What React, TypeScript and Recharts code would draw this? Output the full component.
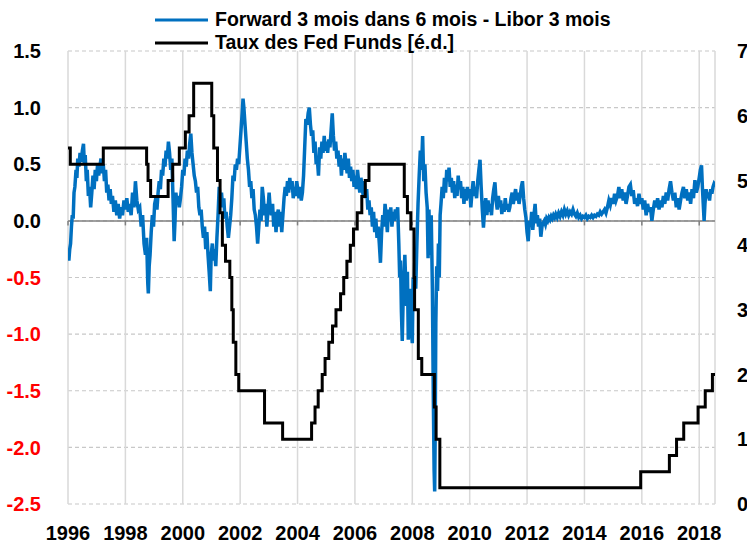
import React from "react";
import {
  CartesianGrid,
  Line,
  LineChart,
  ReferenceLine,
  XAxis,
  YAxis,
} from "recharts";

// [decimal year, spread in pp] - Forward 3m in 6m minus Libor 3m
const forwardSpread: [number, number][] = [
  [1996.0, -0.3], [1996.03, -0.35], [1996.06, -0.25], [1996.09, -0.2], [1996.12, -0.05],
  [1996.15, 0.05], [1996.18, 0.02], [1996.21, 0.25], [1996.24, 0.3], [1996.28, 0.45],
  [1996.31, 0.38], [1996.34, 0.55], [1996.38, 0.48], [1996.42, 0.6], [1996.46, 0.52],
  [1996.5, 0.62], [1996.54, 0.68], [1996.57, 0.5], [1996.6, 0.58], [1996.64, 0.35],
  [1996.67, 0.45], [1996.71, 0.22], [1996.75, 0.3], [1996.79, 0.12], [1996.83, 0.25],
  [1996.87, 0.4], [1996.91, 0.28], [1996.95, 0.45], [1996.99, 0.35], [1997.03, 0.5],
  [1997.07, 0.4], [1997.11, 0.48], [1997.15, 0.55], [1997.19, 0.42], [1997.23, 0.5],
  [1997.27, 0.35], [1997.31, 0.45], [1997.35, 0.25], [1997.39, 0.32], [1997.43, 0.18],
  [1997.47, 0.28], [1997.51, 0.15], [1997.55, 0.22], [1997.6, 0.08], [1997.65, 0.18],
  [1997.7, 0.05], [1997.75, 0.15], [1997.8, 0.02], [1997.85, 0.12], [1997.9, 0.05],
  [1997.95, 0.18], [1998.0, 0.1], [1998.05, 0.2], [1998.1, 0.08], [1998.15, 0.15],
  [1998.2, 0.05], [1998.25, 0.25], [1998.3, 0.12], [1998.35, 0.35], [1998.4, 0.18],
  [1998.45, 0.1], [1998.5, 0.12], [1998.55, -0.05], [1998.6, 0.05], [1998.65, -0.2],
  [1998.7, -0.3], [1998.74, -0.15], [1998.78, -0.55], [1998.8, -0.64], [1998.83, -0.4],
  [1998.86, -0.3], [1998.9, -0.1], [1998.94, 0.05], [1998.98, -0.05], [1999.02, 0.15],
  [1999.06, 0.2], [1999.1, 0.1], [1999.14, 0.25], [1999.18, 0.35], [1999.22, 0.28],
  [1999.26, 0.45], [1999.3, 0.4], [1999.34, 0.55], [1999.38, 0.48], [1999.42, 0.62],
  [1999.46, 0.55], [1999.5, 0.7], [1999.54, 0.6], [1999.58, 0.45], [1999.62, 0.55],
  [1999.66, 0.2], [1999.7, -0.18], [1999.73, 0.0], [1999.76, 0.25], [1999.8, 0.15],
  [1999.84, 0.22], [1999.88, 0.12], [1999.92, 0.2], [1999.96, 0.3], [2000.0, 0.45],
  [2000.04, 0.4], [2000.08, 0.55], [2000.12, 0.48], [2000.16, 0.62], [2000.2, 0.55],
  [2000.24, 0.68], [2000.28, 0.77], [2000.32, 0.6], [2000.36, 0.5], [2000.4, 0.4],
  [2000.44, 0.35], [2000.48, 0.25], [2000.52, 0.3], [2000.56, 0.12], [2000.6, 0.05],
  [2000.64, 0.1], [2000.68, -0.05], [2000.72, -0.15], [2000.76, -0.05], [2000.8, -0.25],
  [2000.84, -0.1], [2000.88, -0.3], [2000.92, -0.45], [2000.96, -0.62], [2000.99, -0.3],
  [2001.03, -0.2], [2001.07, -0.35], [2001.11, -0.25], [2001.15, -0.4], [2001.19, -0.15],
  [2001.23, 0.05], [2001.27, 0.3], [2001.31, 0.15], [2001.35, 0.25], [2001.39, 0.12],
  [2001.43, 0.2], [2001.47, 0.02], [2001.51, 0.08], [2001.55, -0.05], [2001.59, -0.15],
  [2001.63, -0.05], [2001.67, 0.05], [2001.71, 0.2], [2001.75, 0.4], [2001.79, 0.35],
  [2001.83, 0.5], [2001.87, 0.45], [2001.91, 0.55], [2001.95, 0.5], [2001.99, 0.65],
  [2002.03, 0.8], [2002.07, 0.95], [2002.1, 1.08], [2002.13, 1.0], [2002.17, 0.85],
  [2002.21, 0.7], [2002.25, 0.55], [2002.29, 0.45], [2002.33, 0.3], [2002.37, 0.35],
  [2002.41, 0.2], [2002.45, 0.28], [2002.49, 0.1], [2002.53, 0.05], [2002.57, -0.05],
  [2002.61, -0.2], [2002.65, -0.05], [2002.69, 0.1], [2002.73, 0.0], [2002.77, 0.3],
  [2002.81, 0.2], [2002.85, 0.05], [2002.89, 0.15], [2002.93, -0.05], [2002.97, 0.1],
  [2003.01, 0.25], [2003.05, 0.1], [2003.09, 0.05], [2003.13, 0.15], [2003.17, -0.05],
  [2003.21, 0.08], [2003.25, -0.1], [2003.29, 0.05], [2003.33, 0.1], [2003.37, -0.05],
  [2003.41, 0.08], [2003.45, -0.1], [2003.49, 0.05], [2003.53, 0.2], [2003.57, 0.3],
  [2003.61, 0.22], [2003.65, 0.35], [2003.69, 0.25], [2003.73, 0.38], [2003.77, 0.28],
  [2003.81, 0.35], [2003.85, 0.2], [2003.89, 0.3], [2003.93, 0.22], [2003.97, 0.35],
  [2004.01, 0.28], [2004.05, 0.2], [2004.09, 0.3], [2004.13, 0.18], [2004.17, 0.25],
  [2004.21, 0.4], [2004.25, 0.65], [2004.29, 0.9], [2004.33, 0.85], [2004.37, 0.95],
  [2004.41, 1.0], [2004.45, 0.85], [2004.49, 0.75], [2004.53, 0.8], [2004.57, 0.6],
  [2004.61, 0.7], [2004.65, 0.5], [2004.69, 0.55], [2004.73, 0.4], [2004.77, 0.65],
  [2004.81, 0.55], [2004.85, 0.7], [2004.89, 0.6], [2004.93, 0.75], [2004.97, 0.62],
  [2005.01, 0.7], [2005.05, 0.6], [2005.09, 0.72], [2005.13, 0.65], [2005.17, 0.8],
  [2005.21, 0.95], [2005.25, 0.75], [2005.29, 0.62], [2005.33, 0.7], [2005.37, 0.55],
  [2005.41, 0.62], [2005.45, 0.48], [2005.49, 0.58], [2005.53, 0.4], [2005.57, 0.55],
  [2005.61, 0.45], [2005.65, 0.6], [2005.69, 0.5], [2005.73, 0.42], [2005.77, 0.55],
  [2005.81, 0.38], [2005.85, 0.48], [2005.89, 0.35], [2005.93, 0.45], [2005.97, 0.3],
  [2006.01, 0.4], [2006.05, 0.28], [2006.09, 0.45], [2006.13, 0.35], [2006.17, 0.25],
  [2006.21, 0.38], [2006.25, 0.3], [2006.29, 0.22], [2006.33, 0.35], [2006.37, 0.2],
  [2006.41, 0.28], [2006.45, 0.1], [2006.49, 0.18], [2006.53, 0.05], [2006.57, 0.12],
  [2006.61, -0.05], [2006.65, 0.08], [2006.69, -0.1], [2006.73, 0.02], [2006.77, -0.15],
  [2006.81, -0.05], [2006.85, -0.2], [2006.89, -0.37], [2006.93, -0.1], [2006.97, 0.05],
  [2007.01, -0.05], [2007.05, 0.15], [2007.09, 0.05], [2007.13, -0.1], [2007.17, 0.1],
  [2007.21, 0.0], [2007.25, 0.12], [2007.29, -0.05], [2007.33, 0.08], [2007.37, 0.0],
  [2007.41, 0.1], [2007.45, 0.05], [2007.49, 0.12], [2007.53, -0.2], [2007.56, -0.5],
  [2007.59, -0.35], [2007.62, -0.8], [2007.65, -1.06], [2007.68, -0.7], [2007.71, -0.5],
  [2007.74, -0.3], [2007.77, -0.55], [2007.8, -0.75], [2007.83, -0.45], [2007.86, -1.05],
  [2007.89, -0.85], [2007.92, -0.6], [2007.96, -0.95], [2008.0, -1.08], [2008.03, -0.5],
  [2008.06, -0.7], [2008.09, -0.3], [2008.12, -0.6], [2008.16, -0.2], [2008.2, 0.15],
  [2008.24, 0.4], [2008.28, 0.62], [2008.32, 0.45], [2008.36, 0.75], [2008.4, 0.35],
  [2008.44, 0.5], [2008.48, 0.25], [2008.52, 0.12], [2008.55, -0.33], [2008.58, 0.1],
  [2008.62, -0.3], [2008.66, 0.05], [2008.7, -0.6], [2008.73, -1.5], [2008.76, -2.2],
  [2008.78, -2.39], [2008.8, -1.8], [2008.82, -0.9], [2008.85, -0.4], [2008.88, -0.62],
  [2008.91, -0.2], [2008.94, -0.5], [2008.97, 0.05], [2009.0, 0.15], [2009.04, 0.3],
  [2009.08, 0.2], [2009.12, 0.38], [2009.16, 0.25], [2009.2, 0.45], [2009.24, 0.35],
  [2009.28, 0.47], [2009.32, 0.3], [2009.36, 0.38], [2009.4, 0.25], [2009.44, 0.35],
  [2009.48, 0.2], [2009.52, 0.32], [2009.56, 0.22], [2009.6, 0.4], [2009.64, 0.28],
  [2009.68, 0.35], [2009.72, 0.2], [2009.76, 0.3], [2009.8, 0.15], [2009.84, 0.28],
  [2009.88, 0.18], [2009.92, 0.3], [2009.96, 0.2], [2010.0, 0.28], [2010.04, 0.12],
  [2010.08, 0.25], [2010.12, 0.35], [2010.16, 0.22], [2010.2, 0.3], [2010.24, 0.2],
  [2010.28, 0.35], [2010.32, 0.45], [2010.36, 0.54], [2010.4, 0.3], [2010.44, 0.1],
  [2010.48, -0.06], [2010.52, 0.1], [2010.56, 0.2], [2010.6, 0.05], [2010.64, 0.18],
  [2010.68, 0.08], [2010.72, 0.15], [2010.76, 0.05], [2010.8, 0.2], [2010.84, 0.28],
  [2010.88, 0.34], [2010.92, 0.18], [2010.96, 0.1], [2011.0, 0.22], [2011.04, 0.12],
  [2011.08, 0.18], [2011.12, 0.06], [2011.16, 0.15], [2011.2, 0.08], [2011.24, 0.2],
  [2011.28, 0.1], [2011.32, 0.15], [2011.36, 0.08], [2011.4, 0.12], [2011.44, 0.2],
  [2011.48, 0.25], [2011.52, 0.15], [2011.56, 0.22], [2011.6, 0.28], [2011.64, 0.18],
  [2011.68, 0.25], [2011.72, 0.15], [2011.76, 0.22], [2011.8, 0.3], [2011.84, 0.35],
  [2011.88, 0.2], [2011.92, 0.1], [2011.96, 0.03], [2012.0, -0.1], [2012.04, -0.18],
  [2012.08, 0.0], [2012.12, -0.05], [2012.16, 0.08], [2012.2, -0.08], [2012.24, 0.05],
  [2012.28, 0.15], [2012.32, -0.02], [2012.36, 0.05], [2012.4, -0.05], [2012.44, 0.02],
  [2012.48, -0.14], [2012.52, -0.05], [2012.56, -0.02], [2012.6, 0.0], [2012.64, -0.03],
  [2012.68, 0.02], [2012.72, 0.0], [2012.76, 0.03], [2012.8, 0.01], [2012.84, 0.04],
  [2012.88, 0.02], [2012.92, 0.05], [2012.96, 0.03], [2013.0, 0.06], [2013.05, 0.03],
  [2013.1, 0.07], [2013.15, 0.04], [2013.2, 0.08], [2013.25, 0.05], [2013.3, 0.1],
  [2013.35, 0.06], [2013.4, 0.09], [2013.45, 0.05], [2013.5, 0.08], [2013.55, 0.06],
  [2013.6, 0.1], [2013.65, 0.06], [2013.7, 0.04], [2013.75, 0.07], [2013.8, 0.03],
  [2013.85, 0.05], [2013.9, 0.02], [2013.95, 0.04], [2014.0, 0.03], [2014.05, 0.05],
  [2014.1, 0.02], [2014.15, 0.04], [2014.2, 0.03], [2014.25, 0.05], [2014.3, 0.03],
  [2014.35, 0.05], [2014.4, 0.04], [2014.45, 0.06], [2014.5, 0.05], [2014.55, 0.08],
  [2014.6, 0.06], [2014.65, 0.08], [2014.7, 0.1], [2014.75, 0.07], [2014.8, 0.12],
  [2014.85, 0.18], [2014.9, 0.14], [2014.95, 0.2], [2015.0, 0.15], [2015.05, 0.24],
  [2015.1, 0.18], [2015.15, 0.22], [2015.2, 0.3], [2015.25, 0.2], [2015.3, 0.28],
  [2015.35, 0.18], [2015.4, 0.25], [2015.45, 0.15], [2015.5, 0.22], [2015.55, 0.3],
  [2015.6, 0.32], [2015.65, 0.22], [2015.7, 0.27], [2015.75, 0.15], [2015.8, 0.2],
  [2015.85, 0.13], [2015.9, 0.24], [2015.95, 0.15], [2016.0, 0.2], [2016.05, 0.1],
  [2016.1, 0.18], [2016.15, 0.05], [2016.2, 0.15], [2016.25, 0.08], [2016.3, 0.12],
  [2016.35, 0.0], [2016.4, 0.1], [2016.45, 0.18], [2016.5, 0.12], [2016.55, 0.2],
  [2016.6, 0.1], [2016.65, 0.18], [2016.7, 0.12], [2016.75, 0.22], [2016.8, 0.15],
  [2016.85, 0.25], [2016.9, 0.18], [2016.95, 0.28], [2017.0, 0.35], [2017.05, 0.25],
  [2017.1, 0.18], [2017.15, 0.25], [2017.2, 0.12], [2017.25, 0.2], [2017.3, 0.1],
  [2017.35, 0.18], [2017.4, 0.25], [2017.45, 0.3], [2017.5, 0.2], [2017.55, 0.28],
  [2017.6, 0.18], [2017.65, 0.25], [2017.7, 0.15], [2017.75, 0.28], [2017.8, 0.2],
  [2017.85, 0.36], [2017.9, 0.25], [2017.95, 0.3], [2018.0, 0.38], [2018.04, 0.45],
  [2018.08, 0.49], [2018.11, 0.3], [2018.14, 0.15], [2018.17, 0.0], [2018.2, 0.15],
  [2018.24, 0.28], [2018.28, 0.2], [2018.32, 0.25], [2018.36, 0.18], [2018.4, 0.28],
  [2018.44, 0.24], [2018.48, 0.3], [2018.52, 0.33], [2018.55, 0.32],
];

// [decimal year, Fed Funds target (upper bound), %] - value holds until next change
const fedFunds: [number, number][] = [
  [1996.0, 5.5], [1996.08, 5.25], [1997.23, 5.5], [1998.74, 5.25], [1998.79, 5.0],
  [1998.88, 4.75], [1999.49, 5.0], [1999.65, 5.25], [1999.88, 5.5], [2000.09, 5.75],
  [2000.22, 6.0], [2000.38, 6.5], [2001.01, 6.0], [2001.08, 5.5], [2001.21, 5.0],
  [2001.3, 4.5], [2001.38, 4.0], [2001.49, 3.75], [2001.64, 3.5], [2001.71, 3.0],
  [2001.76, 2.5], [2001.85, 2.0], [2001.95, 1.75], [2002.85, 1.25], [2003.48, 1.0],
  [2004.49, 1.25], [2004.61, 1.5], [2004.72, 1.75], [2004.86, 2.0], [2004.96, 2.25],
  [2005.09, 2.5], [2005.22, 2.75], [2005.34, 3.0], [2005.5, 3.25], [2005.61, 3.5],
  [2005.72, 3.75], [2005.84, 4.0], [2005.95, 4.25], [2006.08, 4.5], [2006.24, 4.75],
  [2006.36, 5.0], [2006.49, 5.25], [2007.72, 4.75], [2007.83, 4.5], [2007.95, 4.25],
  [2008.06, 3.5], [2008.08, 3.0], [2008.21, 2.25], [2008.33, 2.0], [2008.77, 1.5],
  [2008.83, 1.0], [2008.96, 0.25], [2015.96, 0.5], [2016.96, 0.75], [2017.21, 1.0],
  [2017.46, 1.25], [2017.96, 1.5], [2018.21, 1.75], [2018.46, 2.0], [2018.55, 2.0],
];

const yearTicks = [1996, 1998, 2000, 2002, 2004, 2006, 2008, 2010, 2012, 2014, 2016, 2018];
const leftTicks = [-2.5, -2, -1.5, -1, -0.5, 0, 0.5, 1, 1.5];
const rightTicks = [0, 1, 2, 3, 4, 5, 6, 7];

const seriesNames = ["Forward 3 mois dans 6 mois - Libor 3 mois", "Taux des Fed Funds [é.d.]"];
const seriesColors = ["#0070C0", "#000000"];

const FONT = '"Liberation Sans", Arial, sans-serif';

const spreadData = forwardSpread.map(([t, v]) => ({ t, spread: v }));
const fedData = fedFunds.map(([t, v]) => ({ t, fed: v }));

function LeftTick(props: any) {
  const { x, y, payload } = props;
  const v = payload.value as number;
  return (
    <text
      x={x}
      y={y}
      dy="0.36em"
      textAnchor="end"
      fill={v < 0 ? "#FF0000" : "#000000"}
      fontSize={20}
      fontWeight="bold"
      fontFamily={FONT}
    >
      {v.toFixed(1)}
    </text>
  );
}

function ChartLegend() {
  return (
    <div
      style={{
        position: "absolute",
        left: 155,
        top: 8,
        fontFamily: FONT,
        fontWeight: "bold",
        fontSize: 19.5,
        lineHeight: "23px",
        color: "#000",
      }}
    >
      {seriesNames.map((name, i) => (
        <div key={name} style={{ display: "flex", alignItems: "center", whiteSpace: "nowrap" }}>
          <svg width={60} height={23}>
            <line x1={0} x2={53} y1={12} y2={12} stroke={seriesColors[i]} strokeWidth={3} />
          </svg>
          <span>{name}</span>
        </div>
      ))}
    </div>
  );
}

export default function App() {
  return (
    <div style={{ position: "absolute", left: 0, top: 0, width: 747, height: 545, background: "#fff" }}>
      <LineChart width={747} height={545} margin={{ top: 51, right: 0, bottom: 0, left: 8 }}>
        <CartesianGrid
          yAxisId="left"
          vertical={false}
          stroke="#c8c8c8"
          strokeDasharray="4 3"
          strokeWidth={1.2}
        />
        <CartesianGrid yAxisId="left" horizontal={false} stroke="#d9d9d9" strokeWidth={1.5} />
        <XAxis
          dataKey="t"
          type="number"
          domain={[1996, 2018.55]}
          ticks={yearTicks}
          allowDataOverflow
          axisLine={false}
          tickLine={false}
          tickSize={0}
          tickMargin={22}
          height={41}
          tick={{ fill: "#000", fontSize: 20, fontWeight: "bold", fontFamily: FONT }}
        />
        <YAxis
          yAxisId="left"
          domain={[-2.5, 1.5]}
          ticks={leftTicks}
          width={60}
          axisLine={false}
          tickLine={false}
          tickSize={0}
          tickMargin={27}
          tick={<LeftTick />}
        />
        <YAxis
          yAxisId="right"
          orientation="right"
          domain={[0, 7]}
          ticks={rightTicks}
          width={32}
          axisLine={false}
          tickLine={false}
          tickSize={0}
          tickMargin={22}
          tick={{ fill: "#000", fontSize: 20, fontWeight: "bold", fontFamily: FONT, textAnchor: "start" }}
        />
        <ReferenceLine yAxisId="left" y={0} stroke="#808080" strokeWidth={1.5} />
        {yearTicks.map((yr) => (
          <ReferenceLine
            key={yr}
            yAxisId="left"
            segment={[
              { x: yr, y: 0 },
              { x: yr, y: -0.04 },
            ]}
            stroke="#808080"
            strokeWidth={1.5}
          />
        ))}
        <Line
          yAxisId="left"
          data={spreadData}
          dataKey="spread"
          type="linear"
          stroke={seriesColors[0]}
          strokeWidth={3.5}
          dot={false}
          isAnimationActive={false}
        />
        <Line
          yAxisId="right"
          data={fedData}
          dataKey="fed"
          type="stepAfter"
          stroke={seriesColors[1]}
          strokeWidth={3}
          dot={false}
          isAnimationActive={false}
        />
      </LineChart>
      <ChartLegend />
    </div>
  );
}
